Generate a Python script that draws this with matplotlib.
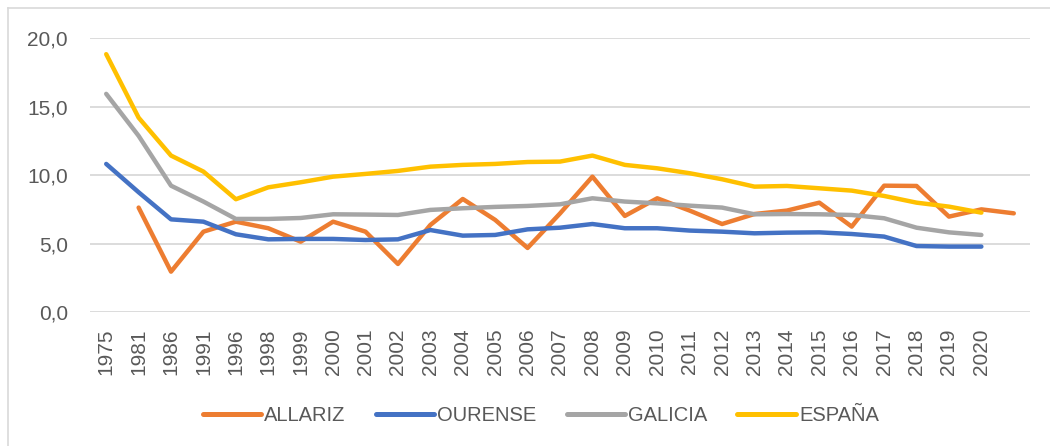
import matplotlib
matplotlib.use("Agg")
import matplotlib.pyplot as plt
from matplotlib.lines import Line2D
import numpy as np

years = ["1975", "1981", "1986", "1991", "1996", "1998", "1999", "2000", "2001", "2002",
         "2003", "2004", "2005", "2006", "2007", "2008", "2009", "2010", "2011", "2012",
         "2013", "2014", "2015", "2016", "2017", "2018", "2019", "2020", ""]

allariz = [np.nan, 7.63, 2.95, 5.87, 6.60, 6.12, 5.14, 6.60, 5.87, 3.51,
           6.36, 8.26, 6.73, 4.68, 7.2, 9.89, 7.02, 8.31, 7.41, 6.43,
           7.16, 7.41, 7.99, 6.24, 9.23, 9.21, 6.97, 7.50, 7.21]
ourense = [10.82, 8.75, 6.77, 6.60, 5.68, 5.31, 5.34, 5.34, 5.26, 5.31,
           5.99, 5.58, 5.63, 6.04, 6.16, 6.43, 6.12, 6.12, 5.95, 5.87,
           5.75, 5.80, 5.82, 5.70, 5.51, 4.82, 4.78, 4.78, np.nan]
galicia = [15.94, 12.87, 9.23, 8.07, 6.80, 6.80, 6.87, 7.14, 7.12, 7.09,
           7.46, 7.58, 7.68, 7.75, 7.87, 8.31, 8.07, 7.94, 7.77, 7.63,
           7.14, 7.16, 7.14, 7.09, 6.85, 6.16, 5.82, 5.63, np.nan]
espana = [18.84, 14.2, 11.43, 10.26, 8.24, 9.11, 9.48, 9.89, 10.09, 10.31,
          10.62, 10.75, 10.82, 10.96, 10.99, 11.43, 10.75, 10.50, 10.14, 9.70,
          9.16, 9.21, 9.04, 8.87, 8.48, 7.99, 7.70, 7.26, np.nan]

series = [("ALLARIZ", allariz, "#ED7D31"),
          ("OURENSE", ourense, "#4472C4"),
          ("GALICIA", galicia, "#A5A5A5"),
          ("ESPAÑA", espana, "#FFC000")]

W, H = 1050, 446
fig = plt.figure(figsize=(W / 100, H / 100), dpi=100)
ax = fig.add_axes([90 / W, 1 - 312 / H, (1030 - 90) / W, (312 - 38.3) / H])

x = np.arange(len(years))
for name, vals, col in series:
    ax.plot(x, vals, color=col, lw=3.2, solid_capstyle="round",
            solid_joinstyle="round", label=name, zorder=3)

ax.set_xlim(-0.5, len(years) - 0.5)
ax.set_ylim(0, 20)
ax.set_yticks([0, 5, 10, 15, 20])
ax.set_yticklabels(["0,0", "5,0", "10,0", "15,0", "20,0"])
ax.set_xticks(x)
ax.set_xticklabels(years, rotation=90)
for s in ax.spines.values():
    s.set_visible(False)
ax.grid(axis="y", color="#D9D9D9", lw=1.3, zorder=0)
ax.tick_params(axis="both", length=0, labelcolor="#595959", labelsize=15)
ax.tick_params(axis="y", pad=16)
ax.tick_params(axis="x", pad=12)
for lab in ax.get_xticklabels() + ax.get_yticklabels():
    lab.set_family(["Liberation Sans", "DejaVu Sans"])

handles = [Line2D([0], [0], color=c, lw=3.6, solid_capstyle="round") for _, _, c in series]
leg = fig.legend(handles, [n for n, _, _ in series], loc="center",
                 bbox_to_anchor=(0.515, 1 - 415.7 / H), ncol=4, frameon=False,
                 handlelength=2.9, handletextpad=0.15, columnspacing=1.5,
                 prop={"family": ["Liberation Sans", "DejaVu Sans"], "size": 14.5})
for t in leg.get_texts():
    t.set_color("#595959")

# chart area border (top and left visible)
fig.add_artist(Line2D([8 / W, 8 / W], [0, 1 - 8 / H], transform=fig.transFigure,
                      color="#D9D9D9", lw=1.2))
fig.add_artist(Line2D([8 / W, 1], [1 - 8 / H, 1 - 8 / H], transform=fig.transFigure,
                      color="#D9D9D9", lw=1.2))

fig.savefig("out.png", dpi=100)
